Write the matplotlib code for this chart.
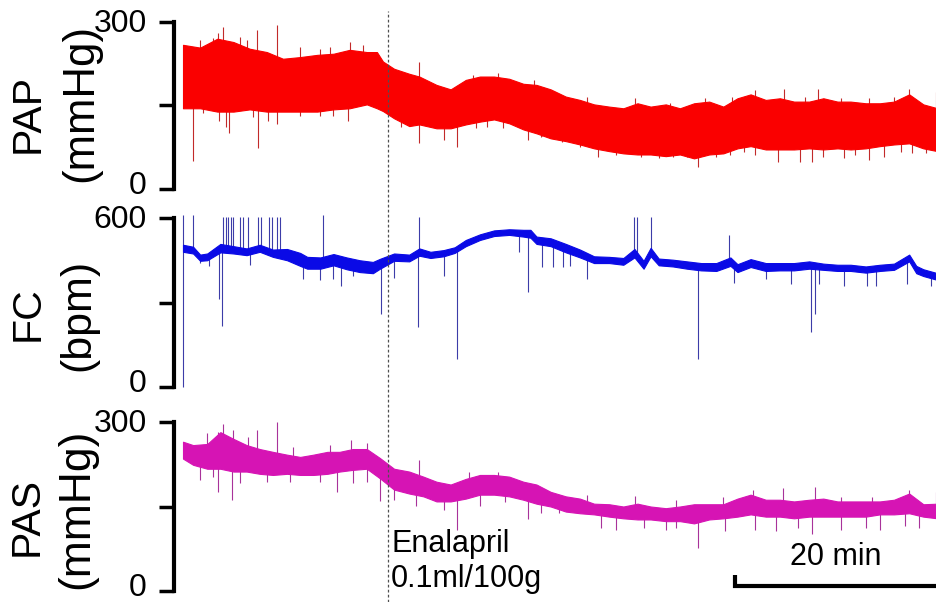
import numpy as np
import matplotlib
matplotlib.use('Agg')
import matplotlib.pyplot as plt
from matplotlib.lines import Line2D
from matplotlib.transforms import blended_transform_factory, offset_copy

plt.rcParams['font.family'] = ['Liberation Sans', 'DejaVu Sans']

# ---------------- data (time in minutes) ----------------
drug_time = 20.3
scale_minutes = 20

# PAP (mmHg): envelope of the pressure trace
pap_t = [0.0, 1.7, 3.4, 5.0, 6.6, 8.3, 9.9, 11.6, 13.3, 14.9, 16.5, 18.2, 19.2, 19.8, 20.9,
         22.4, 23.4, 25.1, 26.5, 28.0, 29.4, 30.8, 32.3, 33.7, 35.0, 36.4, 37.9, 39.3, 40.7,
         42.2, 43.6, 45.0, 46.3, 47.8, 49.2, 50.6, 52.1, 53.5, 54.9, 56.2, 57.7, 59.1, 60.5,
         62.0, 63.4, 64.8, 66.1, 67.6, 69.0, 70.4, 71.9, 73.3, 74.7]
pap_hi = [259, 254, 270, 264, 252, 246, 234, 237, 241, 243, 250, 246, 246, 229, 216,
          207, 202, 187, 179, 196, 202, 202, 198, 189, 187, 179, 166, 160, 152,
          148, 145, 154, 148, 152, 145, 154, 157, 148, 163, 170, 160, 163, 157,
          157, 163, 157, 157, 154, 154, 157, 170, 152, 145]
pap_lo = [145, 145, 139, 139, 143, 139, 139, 139, 139, 143, 145, 152, 145, 140, 127,
          113, 116, 109, 109, 116, 121, 125, 118, 107, 100, 91, 86, 80, 73,
          68, 64, 62, 62, 59, 62, 55, 62, 64, 73, 77, 71, 71, 71,
          73, 71, 73, 71, 73, 77, 80, 82, 73, 68]
pap_up_t = [3.5, 4.0, 7.3, 9.3, 23.4, 44.8, 54.4, 56.6, 59.5, 62.9, 71.9, 74.6,
            1.7, 3.0, 5.6, 6.3, 11.6, 13.6, 14.6, 16.5, 17.8, 28.7, 31.2, 34.8, 40.0,
            48.2, 51.7, 61.6, 65.1, 67.9, 70.4]
pap_up_v = [281, 291, 285, 294, 229, 163, 165, 177, 179, 179, 179, 175,
            268, 271, 273, 268, 255, 252, 255, 264, 259, 205, 208, 196, 165,
            154, 163, 165, 163, 163, 165]
pap_dn_t = [1.0, 3.6, 4.3, 4.6, 7.4, 8.4, 9.3, 16.3, 23.4, 25.8, 27.1, 34.2, 35.5, 41.1,
            51.0, 56.6, 58.9, 61.1, 62.3, 65.4, 67.9, 69.4, 72.2,
            2.0, 6.9, 11.6, 13.6, 14.9, 21.6, 29.0, 30.1, 31.7, 35.4, 37.5, 39.3, 42.9,
            45.3, 47.1, 48.5, 49.9, 52.8, 54.2, 55.5, 63.4, 66.5, 71.1, 73.6]
pap_dn_v = [50, 123, 111, 100, 73, 123, 116, 123, 82, 88, 75, 88, 95, 57,
            39, 61, 48, 48, 48, 55, 52, 57, 64,
            136, 129, 131, 131, 131, 111, 109, 111, 109, 93, 85, 75, 61,
            57, 55, 57, 57, 57, 61, 67, 57, 61, 67, 64]

# FC (bpm)
fc_t = [0.0, 1.0, 1.7, 2.4, 3.7, 5.0, 6.3, 7.6, 8.9, 10.3, 11.6, 12.3, 13.6, 14.9, 16.2,
        17.5, 18.8, 19.5, 20.9, 22.4, 23.4, 24.5, 25.8, 26.9, 28.0, 29.4, 30.8, 32.3, 33.7,
        34.4, 35.0, 36.4, 37.9, 39.3, 40.7, 42.2, 43.6, 44.7, 45.6, 46.3, 47.1, 48.5, 49.9,
        51.3, 52.8, 54.2, 54.9, 56.2, 57.7, 59.1, 60.5, 62.0, 63.4, 64.8, 66.1, 67.6, 69.0,
        70.4, 71.9, 72.6, 73.3, 74.7]
fc_hi = [505, 498, 470, 474, 508, 500, 492, 505, 488, 490, 476, 462, 460, 472, 460,
         450, 444, 455, 474, 470, 492, 480, 486, 496, 522, 542, 556, 560, 558,
         558, 534, 528, 508, 488, 464, 462, 458, 490, 448, 494, 456, 452, 446,
         440, 440, 460, 436, 454, 440, 440, 440, 446, 438, 434, 434, 428, 434,
         438, 470, 430, 418, 404]
fc_lo = [480, 474, 448, 450, 478, 474, 468, 480, 462, 450, 430, 420, 420, 432, 418,
         408, 404, 420, 448, 446, 466, 458, 464, 476, 500, 522, 536, 540, 534,
         530, 508, 500, 478, 460, 440, 440, 434, 460, 420, 464, 432, 428, 420,
         414, 412, 430, 408, 426, 412, 414, 414, 420, 416, 412, 412, 406, 412,
         416, 446, 404, 394, 380]
fc_up_t = [0.0, 1.0, 4.0, 4.3, 4.5, 4.8, 5.0, 5.6, 5.9, 6.4, 7.4, 7.7, 8.5, 8.8, 9.3, 9.6,
           13.9, 23.4, 44.7, 45.0, 46.3, 54.1]
fc_up_v = [612, 612, 603, 603, 603, 603, 603, 603, 603, 603, 603, 603, 603, 603, 603, 603,
           612, 604, 604, 604, 604, 540]
fc_dn_t = [0.0, 3.6, 3.9, 19.6, 23.3, 27.1, 34.2, 51.0, 62.2, 62.6,
           1.7, 2.6, 6.6, 11.9, 13.6, 14.9, 15.6, 16.8, 18.8, 20.9, 25.8, 33.3, 35.5,
           36.6, 37.6, 38.3, 40.0, 54.6, 57.7, 60.2, 63.0, 65.4, 67.7, 68.6, 71.7, 74.1, 74.7]
fc_dn_v = [0, 311, 216, 258, 212, 99, 339, 99, 194, 258,
           441, 430, 434, 385, 380, 385, 360, 395, 420, 388, 395, 480, 427,
           427, 427, 430, 385, 371, 385, 364, 364, 357, 357, 357, 364, 357, 350]

# PAS (mmHg)
pas_t = [0.0, 1.0, 2.4, 3.7, 5.0, 6.3, 7.6, 8.9, 10.3, 11.6, 12.9, 14.3, 15.5, 16.8, 18.2,
         19.5, 20.9, 22.4, 23.8, 25.1, 26.5, 28.0, 29.4, 30.8, 32.3, 33.7, 35.0, 36.4, 37.9,
         39.3, 40.7, 42.2, 43.6, 45.0, 46.3, 47.8, 49.2, 50.6, 52.1, 53.5, 54.9, 56.2, 57.7,
         59.1, 60.5, 62.0, 63.4, 64.8, 66.1, 67.6, 69.0, 70.4, 71.9, 73.3, 74.7]
pas_hi = [265, 259, 261, 282, 270, 259, 252, 247, 242, 238, 242, 247, 247, 252, 252,
          236, 217, 212, 203, 194, 189, 199, 206, 206, 203, 194, 189, 176, 168,
          164, 155, 154, 150, 155, 150, 147, 150, 154, 154, 154, 164, 171, 162,
          162, 159, 162, 164, 159, 159, 159, 159, 162, 173, 154, 155]
pas_lo = [235, 224, 217, 217, 212, 212, 208, 206, 208, 206, 206, 208, 212, 215, 217,
          200, 180, 173, 168, 159, 159, 164, 171, 171, 168, 162, 155, 150, 141,
          138, 136, 132, 129, 127, 127, 124, 124, 120, 127, 129, 132, 136, 132,
          132, 129, 132, 132, 132, 132, 132, 136, 136, 138, 132, 129]
pas_up_t = [3.5, 4.0, 7.3, 9.3, 23.4, 44.8, 56.4, 59.4, 62.6, 71.9, 74.6,
            2.4, 5.0, 6.4, 10.9, 14.6, 16.6, 18.2, 28.3, 31.2, 40.0, 48.8, 53.5, 65.1, 68.2]
pas_up_v = [283, 297, 286, 300, 233, 168, 180, 183, 185, 180, 175,
            280, 286, 273, 256, 259, 268, 262, 211, 211, 170, 162, 167, 167, 167]
pas_dn_t = [1.7, 3.0, 3.5, 4.9, 5.6, 8.3, 10.6, 13.6, 15.2, 16.8, 18.2, 19.5, 20.9, 23.1,
            25.8, 27.1, 29.4, 31.9, 34.2, 35.4, 37.2, 41.4, 42.9, 45.6, 47.8, 48.8, 51.0,
            53.7, 56.6, 58.7, 60.9, 62.3, 65.1, 67.6, 69.0, 71.5, 72.9]
pas_dn_v = [197, 202, 176, 162, 192, 194, 194, 194, 176, 192, 194, 159, 162, 151,
            144, 109, 151, 158, 127, 138, 138, 112, 109, 112, 109, 112, 76,
            106, 109, 106, 112, 102, 109, 112, 109, 115, 112]

# ---------------- figure ----------------
W, H = 937, 602
fig = plt.figure(figsize=(W / 100, H / 100), dpi=100)

x_left_px, x_right_px = 174.5, 937
t0_px, px_per_min = 183.0, 10.1
xlim = ((x_left_px - t0_px) / px_per_min, (x_right_px - t0_px) / px_per_min)


def make_axes(bottom_px, top_px):
    return fig.add_axes([x_left_px / W, 1 - bottom_px / H,
                         (x_right_px - x_left_px) / W, (bottom_px - top_px) / H])


ax1 = make_axes(189, 22)
ax2 = make_axes(387, 218)
ax3 = make_axes(591, 422)

panels = [
    (ax1, pap_t, pap_hi, pap_lo, pap_up_t, pap_up_v, pap_dn_t, pap_dn_v,
     '#fa0000', '#c22a2a', 300),
    (ax2, fc_t, fc_hi, fc_lo, fc_up_t, fc_up_v, fc_dn_t, fc_dn_v,
     '#0a0ae6', '#3c3ca8', 600),
    (ax3, pas_t, pas_hi, pas_lo, pas_up_t, pas_up_v, pas_dn_t, pas_dn_v,
     '#d614b4', '#a8329a', 300),
]

for ax, t, hi, lo, ut, uv, dt, dv, col, scol, ymax in panels:
    t = np.asarray(t, float)
    hi = np.asarray(hi, float)
    lo = np.asarray(lo, float)
    mid = (hi + lo) / 2
    ax.fill_between(t, lo, hi, color=col, lw=0.8, edgecolor=col, zorder=2)
    ub = np.interp(ut, t, mid)
    ax.vlines(ut, ub, uv, color=scol, lw=0.8, zorder=1, clip_on=False)
    db = np.interp(dt, t, mid)
    ax.vlines(dt, dv, db, color=scol, lw=0.8, zorder=1, clip_on=False)
    ax.set_xlim(*xlim)
    ax.set_ylim(0, ymax)
    for s in ['top', 'right', 'bottom']:
        ax.spines[s].set_visible(False)
    ax.spines['left'].set_linewidth(3)
    ax.set_xticks([])
    ax.set_yticks([0, ymax / 2, ymax])
    ax.set_yticklabels([])
    ax.tick_params(axis='y', direction='out', length=11, width=2.5)
    ax.patch.set_alpha(0)
    # tick labels, pulled slightly inward as in the original figure
    lt = blended_transform_factory(ax.transAxes, ax.transData)
    ax.text(0, 0, '0', transform=offset_copy(lt, fig, x=-20, y=2, units='points'),
            ha='right', va='center', fontsize=23)
    ax.text(0, ymax, str(ymax), transform=offset_copy(lt, fig, x=-20, y=-1.5, units='points'),
            ha='right', va='center', fontsize=23)

# y labels
fig.text(27.5 / W, 1 - 113 / H, 'PAP', rotation=90, ha='center', va='center', fontsize=29.5)
fig.text(81 / W, 1 - 103 / H, '(mmHg)', rotation=90, ha='center', va='center', fontsize=31.5)
fig.text(28 / W, 1 - 314 / H, 'FC', rotation=90, ha='center', va='center', fontsize=29.5)
fig.text(78 / W, 1 - 315 / H, '(bpm)', rotation=90, ha='center', va='center', fontsize=31)
fig.text(27 / W, 1 - 517 / H, 'PAS', rotation=90, ha='center', va='center', fontsize=29.5)
fig.text(77 / W, 1 - 509 / H, '(mmHg)', rotation=90, ha='center', va='center', fontsize=32)

# drug marker (dashed vertical line across the whole figure)
xd = ax1.transData.transform((drug_time, 0))[0]
fx = fig.transFigure.inverted().transform((xd, 0))[0]
fig.add_artist(Line2D([fx, fx], [0, 1 - 11 / H], transform=fig.transFigure,
                      color='#505050', lw=0.9, ls=(0, (2.2, 1.8))))
fig.text(fx + 3 / W, 1 - 552 / H, 'Enalapril', ha='left', va='baseline', fontsize=22)
fig.text(fx + 3 / W, 1 - 587 / H, '0.1ml/100g', ha='left', va='baseline', fontsize=22)

# 20 min scale bar
bt = blended_transform_factory(ax3.transData, ax3.transAxes)
t_end = xlim[1]
ax3.plot([t_end - scale_minutes, t_end - scale_minutes, t_end], [0.095, 0.03, 0.03],
         transform=bt, color='black', lw=3, clip_on=False, solid_capstyle='butt',
         solid_joinstyle='miter')
ax3.text(t_end - scale_minutes / 2, 1 - (565 - 422) / 169, '20 min', transform=bt,
         ha='center', va='baseline', fontsize=22)

fig.savefig('out.png', dpi=100)
